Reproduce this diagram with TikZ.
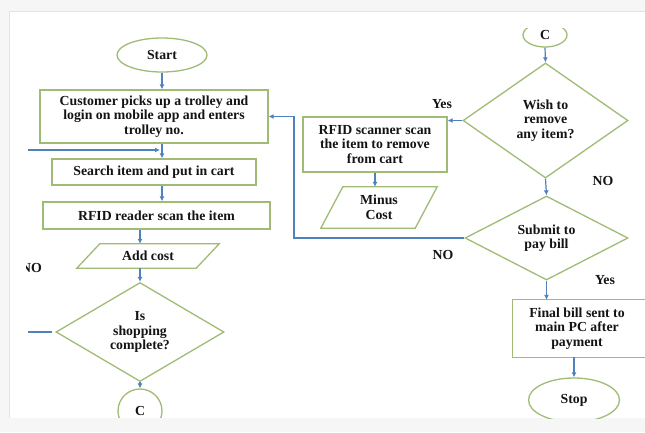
\documentclass[tikz,border=0pt]{standalone}
\usepackage{fontspec}
\setmainfont{Liberation Serif}
\usetikzlibrary{shapes.geometric,arrows.meta,calc}
\definecolor{grn}{RGB}{160,187,118}
\definecolor{blu}{RGB}{79,129,189}
\definecolor{txt}{RGB}{20,20,20}
\begin{document}
\begin{tikzpicture}[x=1pt,y=-1pt,
 every node/.style={font=\fontsize{13.8}{14.5}\selectfont\bfseries, text=txt, align=center, inner sep=0pt},
 boxst/.style={draw=grn, line width=1.3pt, rectangle},
 ellst/.style={draw=grn, line width=1.3pt, ellipse},
 diast/.style={draw=grn, line width=1.3pt, diamond},
 grnline/.style={draw=grn, line width=1.3pt},
 arr/.style={draw=blu, line width=1.2pt, -{Latex[length=5pt,width=5pt]}},
 lin/.style={draw=blu, line width=1.2pt}]
\useasboundingbox (0,0) rectangle (645,432);
\fill[gray!7] (0,0) rectangle (645,432);
\fill[white] (9,11) rectangle (645,418);
\draw[gray!22, line width=1pt] (9,418) -- (9,11) -- (645,11);

% left column
\node[ellst, minimum width=90pt, minimum height=34pt] (start) at (162,55) {Start};
\node[boxst, minimum width=228pt, minimum height=53pt] (cust) at (154,116.5) {Customer picks up a trolley and\\login on mobile app and enters\\trolley no.};
\node[boxst, minimum width=204pt, minimum height=26pt] (search) at (154,172) {Search item and put in cart};
\node[boxst, minimum width=227pt, minimum height=27pt] (reader) at (156.5,215.5) {RFID reader scan the item};
\node[minimum width=142pt, minimum height=24pt] (add) at (148,256) {Add cost};
\draw[grnline] (add.south west) -- ($(add.north west)+(23,0)$) -- (add.north east) -- ($(add.south east)+(-23,0)$) -- cycle;
\node[diast, shape aspect=1.7, minimum width=168pt, minimum height=99pt] (done) at (140,332) {Is\\shopping\\complete?};
\begin{scope}
\clip (0,0) rectangle (645,417);
\node[ellst, minimum width=44pt, minimum height=44pt] (c1) at (140,411) {C};
\end{scope}
\begin{scope}
\clip (26.5,250) rectangle (80,285);
\node (noL) at (31.5,268) {NO};
\end{scope}

% right column
\begin{scope}
\clip (0,28) rectangle (645,432);
\node[ellst, minimum width=44pt, minimum height=24pt] (c2) at (545,35) {C};
\end{scope}
\node[diast, shape aspect=1.4, minimum width=165pt, minimum height=115pt] (wish) at (545.5,120.5) {Wish to\\remove\\any item?};
\node[boxst, minimum width=144pt, minimum height=55pt] (scan) at (375,144.5) {RFID scanner scan\\the item to remove\\from cart};
\node[minimum width=116pt, minimum height=41pt] (minus) at (379,207.5) {Minus\\Cost};
\draw[grnline] (minus.south west) -- ($(minus.north west)+(22,0)$) -- (minus.north east) -- ($(minus.south east)+(-22,0)$) -- cycle;
\node[diast, shape aspect=1.9, minimum width=163pt, minimum height=84pt] (submit) at (546.5,238) {Submit to\\pay bill};
\node[minimum width=128pt, minimum height=57pt] (final) at (577,328.5) {Final bill sent to\\main PC after\\payment};
\begin{scope}
\clip (0,0) rectangle (645,418);
\draw[grnline] ($(final.north west)+(150,0)$) -- (final.north west) -- (final.south west) -- ++(150,0);
\node[ellst, minimum width=91pt, minimum height=44pt] (stop) at (574,400) {Stop};
\end{scope}

\node (yes1) at (442,104) {Yes};
\node (no1) at (603,181) {NO};
\node (no2) at (443,255) {NO};
\node (yes2) at (605,280) {Yes};

% connectors
\coordinate (inL) at (28,150);
\coordinate (outL) at (28,332);
\coordinate (loop) at (294,0);
\draw[arr] (start.south) -- (start.south |- cust.north);
\draw[arr] (cust.south -| start.south) -- (search.north -| start.south);
\draw[arr] (inL) -- ($(inL -| start.south)+(-2,0)$);
\draw[arr] (search.south -| start.south) -- (reader.north -| start.south);
\draw[arr] (reader.south -| done.north) -- (add.north -| done.north);
\draw[arr] (add.south -| done.north) -- (done.north);
\draw[lin] ($(done.west)+(-3,0)$) -- (outL);
\draw[arr] (done.south) -- (c1.north);
\draw[arr] (c2.south) -- (wish.north);
\draw[arr] (wish.west) -- (wish.west -| scan.east);
\draw[arr] (scan.south) -- (scan.south |- minus.north);
\draw[arr] (wish.south) -- (submit.north);
\draw[arr] (submit.west) -- (submit.west -| loop) |- (cust.east);
\draw[arr] (submit.south) -- (submit.south |- final.north);
\draw[arr] (final.south -| stop.north) -- (stop.north);
\end{tikzpicture}
\end{document}
